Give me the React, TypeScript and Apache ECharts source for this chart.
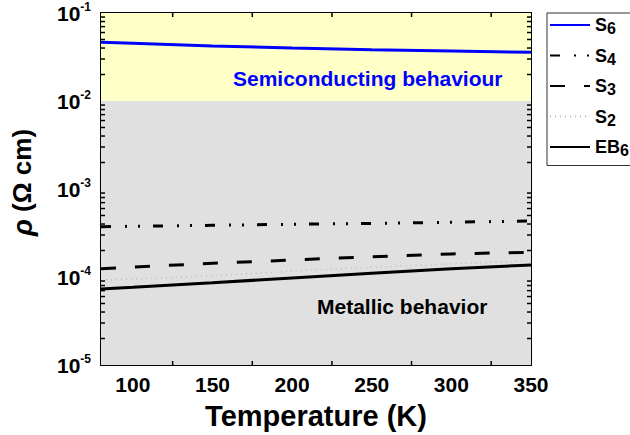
import React, { useEffect, useRef } from "react";
import * as echarts from "echarts";

const TEMPS = [80, 100, 150, 200, 250, 300, 350];
const S6 = [0.0465, 0.0453, 0.0422, 0.04, 0.0383, 0.037, 0.0357];
const S4 = [3.73e-4, 3.77e-4, 3.87e-4, 3.97e-4, 4.06e-4, 4.19e-4, 4.33e-4];
const S3 = [1.24e-4, 1.3e-4, 1.43e-4, 1.56e-4, 1.7e-4, 1.83e-4, 1.91e-4];
const S2 = [9.24e-5, 9.48e-5, 1.03e-4, 1.17e-4, 1.29e-4, 1.41e-4, 1.53e-4];
const EB6 = [7.31e-5, 7.64e-5, 8.61e-5, 9.75e-5, 1.1e-4, 1.24e-4, 1.37e-4];

const X_MIN = 80;
const X_MAX = 350;
const Y_MIN = 1e-5;
const Y_MAX = 1e-1;
const DECADES = [1e-5, 1e-4, 1e-3, 1e-2];
const MANTISSAS = [2, 3, 4, 5, 6, 7, 8, 9];
const X_MINOR = [125, 175, 225, 275, 325];

const SEMI_BAND = [1e-2, 1e-1];
const METAL_BAND = [1e-5, 1e-2];

const FONT = "'Liberation Sans', Arial, sans-serif";

export default function App() {
  const ref = useRef<HTMLDivElement>(null);
  useEffect(() => {
    document.body.style.margin = "0";
    if (!ref.current) return;
    const chart = echarts.init(ref.current, undefined, { renderer: "svg" });
    const pts = (ys: number[]) => TEMPS.map((t, i) => [t, ys[i]]);

    const minorData: number[][] = [];
    DECADES.forEach((d) =>
      MANTISSAS.forEach((m) => {
        minorData.push([X_MIN, d * m, 0]);
        minorData.push([X_MAX, d * m, 1]);
      })
    );
    X_MINOR.forEach((x) => {
      minorData.push([x, Y_MIN, 2]);
      minorData.push([x, Y_MAX, 3]);
    });

    const legendRich = {
      m: { fontSize: 18, fontWeight: "bold", fontFamily: FONT, color: "#000", lineHeight: 20 },
      s: { fontSize: 16, fontWeight: "bold", fontFamily: FONT, color: "#000", verticalAlign: "bottom", padding: [7, 0, 0, 0] },
    };
    const legendNames: Record<string, string> = {
      S6: "{m|S}{s|6}",
      S4: "{m|S}{s|4}",
      S3: "{m|S}{s|3}",
      S2: "{m|S}{s|2}",
      EB6: "{m|EB}{s|6}",
    };

    const commonX = {
      type: "value",
      min: X_MIN,
      max: X_MAX,
      splitNumber: 5,
      splitLine: { show: false },
      axisLine: { show: true, onZero: false, lineStyle: { color: "#000", width: 2 } },
      axisTick: { show: true, inside: true, length: 7, lineStyle: { color: "#000", width: 2 } },
    };
    const commonY = {
      type: "log",
      logBase: 10,
      min: Y_MIN,
      max: Y_MAX,
      splitLine: { show: false },
      axisLine: { show: true, onZero: false, lineStyle: { color: "#000", width: 2 } },
      axisTick: { show: true, inside: true, length: 7, lineStyle: { color: "#000", width: 2 } },
    };

    chart.setOption({
      animation: false,
      backgroundColor: "#fff",
      grid: { left: 98, right: 99, top: 13, bottom: 70 },
      legend: {
        data: ["S6", "S4", "S3", "S2", "EB6"],
        orient: "vertical",
        left: 547,
        top: 13,
        itemWidth: 40,
        itemHeight: 14,
        itemGap: 10,
        padding: [3, 20, 7, 2],
        borderColor: "#333",
        borderWidth: 1,
        backgroundColor: "#fff",
        itemStyle: { opacity: 0 },
        formatter: (n: string) => legendNames[n],
        textStyle: { fontSize: 18, fontWeight: "bold", fontFamily: FONT, color: "#000", rich: legendRich },
      },
      xAxis: [
        {
          ...commonX,
          position: "bottom",
          name: "Temperature (K)",
          nameLocation: "middle",
          nameGap: 36,
          nameTextStyle: { fontSize: 29, fontWeight: "bold", fontFamily: FONT, color: "#000" },
          axisLabel: {
            showMinLabel: false,
            margin: 9,
            fontSize: 21,
            fontWeight: "bold",
            fontFamily: FONT,
            color: "#000",
          },
        },
        { ...commonX, position: "top", axisLabel: { show: false } },
      ],
      yAxis: [
        {
          ...commonY,
          position: "left",
          name: "{r|ρ} (Ω cm)",
          nameLocation: "middle",
          nameGap: 65,
          nameRotate: 90,
          nameTextStyle: {
            fontSize: 26,
            fontWeight: "bold",
            fontFamily: FONT,
            color: "#000",
            padding: [0, 0, 0, 13],
            rich: { r: { fontSize: 28, fontStyle: "italic", fontWeight: "bold", fontFamily: FONT, color: "#000" } },
          },
          axisLabel: {
            margin: 10,
            formatter: (v: number) => `{b|10}{s|${Math.round(Math.log10(v))}}`,
            rich: {
              b: { fontSize: 21, fontWeight: "bold", fontFamily: FONT, color: "#000", lineHeight: 24 },
              s: { fontSize: 12, fontWeight: "bold", fontFamily: FONT, color: "#000", verticalAlign: "top", padding: [0, 0, 10, 0] },
            },
          },
        },
        { ...commonY, position: "right", axisLabel: { show: false } },
      ],
      graphic: [
        {
          type: "text",
          left: 233,
          top: 68,
          style: { text: "Semiconducting behaviour", fontSize: 21, fontWeight: "bold", fontFamily: FONT, fill: "#0000ff" },
          z: 10,
        },
        {
          type: "text",
          left: 317,
          top: 296,
          style: { text: "Metallic behavior", fontSize: 21, fontWeight: "bold", fontFamily: FONT, fill: "#000" },
          z: 10,
        },
      ],
      series: [
        {
          name: "bands",
          type: "line",
          data: [],
          silent: true,
          z: 0,
          markArea: {
            silent: true,
            data: [
              [{ yAxis: SEMI_BAND[0], itemStyle: { color: "#ffffc8" } }, { yAxis: SEMI_BAND[1] }],
              [{ yAxis: METAL_BAND[0], itemStyle: { color: "#e0e0e0" } }, { yAxis: METAL_BAND[1] }],
            ],
          },
        },
        {
          name: "S6",
          type: "line",
          data: pts(S6),
          symbol: "none",
          color: "#0000ff",
          lineStyle: { color: "#0000ff", width: 3 },
          z: 5,
        },
        {
          name: "S4",
          type: "line",
          data: pts(S4),
          symbol: "none",
          color: "#000",
          lineStyle: { color: "#000", width: 3, type: [10, 14, 2, 11, 2, 13] },
          z: 5,
        },
        {
          name: "S3",
          type: "line",
          data: pts(S3),
          symbol: "none",
          color: "#000",
          lineStyle: { color: "#000", width: 3, type: [15, 19] },
          z: 5,
        },
        {
          name: "S2",
          type: "line",
          data: pts(S2),
          symbol: "none",
          color: "#bdbdbd",
          lineStyle: { color: "#bdbdbd", width: 1.5, type: [1, 4] },
          z: 5,
        },
        {
          name: "EB6",
          type: "line",
          data: pts(EB6),
          symbol: "none",
          color: "#000",
          lineStyle: { color: "#000", width: 3 },
          z: 5,
        },
        {
          name: "minorTicks",
          type: "custom",
          silent: true,
          clip: false,
          z: 6,
          data: minorData,
          renderItem: (params: any, api: any) => {
            const p = api.coord([api.value(0), api.value(1)]);
            const k = api.value(2);
            const L = 4;
            let shape;
            if (k === 0) shape = { x1: p[0], y1: p[1], x2: p[0] + L, y2: p[1] };
            else if (k === 1) shape = { x1: p[0], y1: p[1], x2: p[0] - L, y2: p[1] };
            else if (k === 2) shape = { x1: p[0], y1: p[1], x2: p[0], y2: p[1] - L };
            else shape = { x1: p[0], y1: p[1], x2: p[0], y2: p[1] + L };
            return { type: "line", shape, style: { stroke: "#000", lineWidth: 1.5 } };
          },
        },
      ],
    });
    return () => chart.dispose();
  }, []);
  return <div ref={ref} style={{ width: 630, height: 435 }} />;
}
